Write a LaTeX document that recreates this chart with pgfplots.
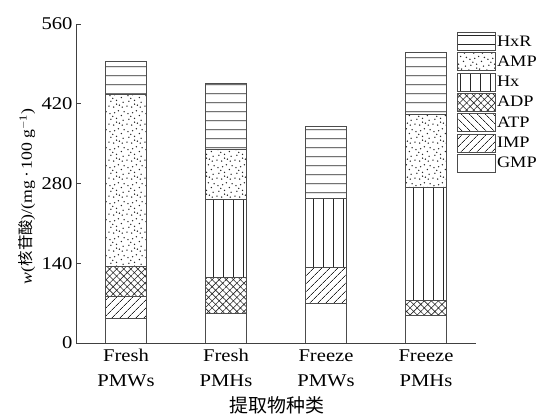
\documentclass[border=0pt]{standalone}
\usepackage{fontspec}
\setmainfont{Liberation Serif}[FakeStretch=1.15]
\newfontfamily\cjk{Noto Sans CJK SC}
\usepackage{pgfplots}
\pgfplotsset{compat=1.18}
\usetikzlibrary{patterns.meta}
\tikzdeclarepattern{
  name=randdots,
  type=uncolored,
  bounding box={(0,0) and (18bp,18bp)},
  tile size={(18bp,18bp)},
  code={
    \foreach \x/\y in {1/2, 6/1, 12/3, 16/6, 3/7, 9/8, 14/11, 2/13, 7/14, 11/16, 17/15, 5/10, 15/1, 9/4} { \fill (\x bp,\y bp) circle (0.8bp); }
  }
}
\tikzdeclarepattern{
  name=vlines,
  type=uncolored,
  bounding box={(0,0) and (9.5bp,400bp)},
  tile size={(9.5bp,400bp)},
  code={\fill (4.35bp,0bp) rectangle (5.15bp,400bp);}
}
\tikzdeclarepattern{
  name=hlines,
  type=uncolored,
  bounding box={(0,0) and (400bp,8.7bp)},
  tile size={(400bp,8.7bp)},
  code={\fill (0bp,3.95bp) rectangle (400bp,4.75bp);}
}
\begin{document}
\begin{tikzpicture}
\useasboundingbox (0,0) rectangle (539bp,414bp);
\begin{axis}[
  at={(76bp,71bp)}, anchor=south west,
  scale only axis, width=400bp, height=319bp,
  ybar stacked, bar width=41bp,
  xmin=-0.5, xmax=3.5, ymin=0, ymax=560,
  ytick={0,140,280,420,560},
  xtick={0,1,2,3},
  xticklabels={{Fresh\\PMWs},{Fresh\\PMHs},{Freeze\\PMWs},{Freeze\\PMHs}},
  xticklabel style={align=center, font=\fontsize{18}{25}\selectfont, yshift=-3bp},
  yticklabel style={font=\fontsize{18}{20}\selectfont},
  /pgf/number format/assume math mode=true,
  axis x line=bottom, axis y line=left,
  axis line style={-, black!75, line width=0.8bp},
  tick align=inside, major tick length=5bp,
  tick style={black!75, line width=0.8bp},
  xlabel={\cjk 提取物种类},
  xlabel style={at={(axis description cs:0.502,-0.196)}, anchor=center, font=\fontsize{19}{22}\selectfont},
  ylabel={\textit{w}({\cjk 核苷酸})/(mg\,·\,100 g\textsuperscript{$-$1})},
  ylabel style={at={(axis description cs:-0.1225,0.46)}, anchor=center, font=\fontsize{15.5}{18}\selectfont},
  legend style={at={(0.9525,0.975)}, anchor=north west, draw=none, fill=none,
    font=\fontsize{16}{19}\selectfont, row sep=1.5bp, inner sep=0pt,
    cells={anchor=west}, nodes={inner sep=1bp}},
  legend image code/.code={\draw[#1, draw=black!70, line width=0.8bp] (0bp,-9bp) rectangle (38bp,9bp);},
  reverse legend,
  every axis plot/.append style={draw=black!70, line width=0.8bp, pattern color=black!85},
]
\addplot[fill=white] coordinates {(0,43) (1,52) (2,70) (3,48)};
\addplot[pattern={Lines[angle=45,distance=6bp,line width=0.7bp]}] coordinates {(0,38) (1,0) (2,62) (3,0)};
\addplot[pattern={Lines[angle=-45,distance=6bp,line width=0.7bp]}] coordinates {(0,0) (1,0) (2,0) (3,0)};
\addplot[pattern={Hatch[angle=45,distance=5bp,line width=0.6bp]}] coordinates {(0,53) (1,63) (2,0) (3,26)};
\addplot[pattern=vlines] coordinates {(0,0) (1,137) (2,122) (3,200)};
\addplot[pattern=randdots] coordinates {(0,303) (1,88) (2,0) (3,128)};
\addplot[pattern=hlines] coordinates {(0,58) (1,116) (2,126) (3,108)};
\legend{GMP,IMP,ATP,ADP,Hx,AMP,HxR}
\end{axis}
\end{tikzpicture}
\end{document}
